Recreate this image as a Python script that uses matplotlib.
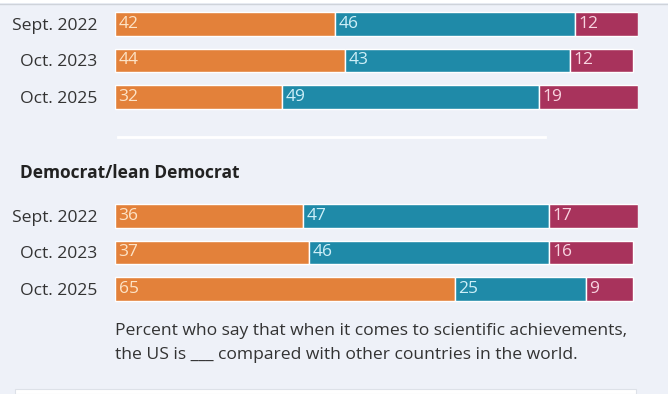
import matplotlib
matplotlib.use("Agg")
import matplotlib.pyplot as plt
from matplotlib.patches import Rectangle
from matplotlib.lines import Line2D
import numpy as np

plt.rcParams['font.family'] = ['Open Sans', 'DejaVu Sans']

periods = ["Sept. 2022", "Oct. 2023", "Oct. 2025"]
series_names = ["Above average", "Average", "Below average"]
top_values = {
    "Above average": [42, 44, 32],
    "Average": [46, 43, 49],
    "Below average": [12, 12, 19],
}
dem_values = {
    "Above average": [36, 37, 65],
    "Average": [47, 46, 25],
    "Below average": [17, 16, 9],
}
group_title = "Democrat/lean Democrat"
note = ("Percent who say that when it comes to scientific achievements,\n"
        "the US is ___ compared with other countries in the world.")

colors = ["#e3813a", "#1f8aa8", "#a8335c"]
label_colors = ["#fde3c6", "#cdeff8", "#f8d3e0"]
bg = "#eef1f8"

W, H = 668, 394
fig = plt.figure(figsize=(W / 100, H / 100), dpi=100)
fig.patch.set_facecolor(bg)

# top white strip and gray line
fig.add_artist(Rectangle((0, 1 - 3 / H), 1, 3 / H, transform=fig.transFigure,
                         facecolor="white", edgecolor="none"))
fig.add_artist(Line2D([0, 1], [1 - 3.5 / H, 1 - 3.5 / H], transform=fig.transFigure,
                      color="#cfd3da", lw=1))
# bottom white panel
fig.add_artist(Rectangle((15 / W, 0), (636 - 15) / W, 5 / H, transform=fig.transFigure,
                         facecolor="white", edgecolor="#dde1e8", lw=0.8))
# separator
fig.add_artist(Line2D([118 / W, 545 / W], [1 - 137 / H, 1 - 137 / H], transform=fig.transFigure,
                      color="white", lw=2))

x0, x1 = 115, 638
row_h = 36.5


def draw_group(values, center_first):
    top_px = center_first - row_h / 2
    height_px = 3 * row_h
    ax = fig.add_axes([x0 / W, 1 - (top_px + height_px) / H, (x1 - x0) / W, height_px / H])
    ax.set_facecolor("none")
    ax.set_xlim(0, 100)
    ax.set_ylim(2.5, -0.5)
    y = np.arange(len(periods))
    left = np.zeros(len(periods))
    for i, name in enumerate(series_names):
        vals = np.array(values[name], dtype=float)
        ax.barh(y, vals, left=left, height=0.64, color=colors[i],
                edgecolor="white", linewidth=1.0)
        for yy, l, v in zip(y, left, vals):
            ax.text(l + 0.7, yy, f"{int(v)}", va="center", ha="left",
                    fontsize=12.5, color=label_colors[i])
        left += vals
    ax.set_yticks(y)
    ax.set_yticklabels(periods, fontsize=12.6, color="#333333")
    ax.tick_params(axis="y", length=0, pad=12.5)
    ax.set_xticks([])
    for s in ax.spines.values():
        s.set_visible(False)
    return ax


draw_group(top_values, 24)
draw_group(dem_values, 216)

fig.text(20 / W, 1 - 173 / H, group_title, fontsize=12.5, fontweight="bold",
         color="#222222", va="center", ha="left")
fig.text(115 / W, 1 - 343 / H, note, fontsize=12.6, color="#333333",
         va="center", ha="left", linespacing=1.6)

fig.savefig("out.png", dpi=100, facecolor=bg)
